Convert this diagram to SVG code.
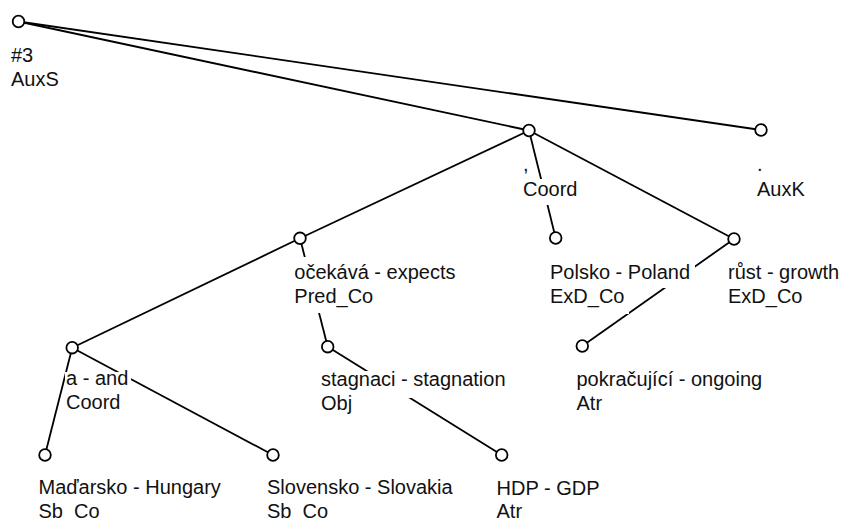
<svg xmlns="http://www.w3.org/2000/svg" width="842" height="521" viewBox="0 0 842 521">
  <style>
    .edge { stroke: #000; stroke-width: 1.8; fill: none; }
    .node circle { fill: #fff; stroke: #000; stroke-width: 1.8; }
    .node rect { fill: #fff; stroke: none; }
    .node text { font-family: "Liberation Sans", Arial, sans-serif; font-size: 20px; fill: #111; }
  </style>
  <rect width="842" height="521" fill="#fff"/>

  <!-- dependency edges, parent to child -->
  <g id="connectors">
    <line class="edge" x1="18.5" y1="21.5" x2="529" y2="130.5"/>
    <line class="edge" x1="18.5" y1="21.5" x2="761" y2="130"/>
    <line class="edge" x1="529" y1="130.5" x2="300" y2="238.3"/>
    <line class="edge" x1="529" y1="130.5" x2="555.7" y2="238"/>
    <line class="edge" x1="529" y1="130.5" x2="734" y2="239"/>
    <line class="edge" x1="300" y1="238.3" x2="72.2" y2="347.7"/>
    <line class="edge" x1="300" y1="238.3" x2="327.7" y2="346.7"/>
    <line class="edge" x1="734" y1="239" x2="582.3" y2="346"/>
    <line class="edge" x1="72.2" y1="347.7" x2="45" y2="455"/>
    <line class="edge" x1="72.2" y1="347.7" x2="273" y2="455"/>
    <line class="edge" x1="327.7" y1="346.7" x2="501.7" y2="455"/>
  </g>

  <g id="n-root" class="node">
    <rect x="10" y="46" width="26" height="25"/>
    <rect x="10" y="70" width="52" height="25"/>
    <text x="11" y="62">#3</text>
    <text x="11" y="86">AuxS</text>
    <circle cx="18.5" cy="21.5" r="5.8"/>
  </g>

  <g id="n-comma" class="node">
    <rect x="522" y="155" width="10" height="25"/>
    <rect x="522" y="179" width="59" height="26"/>
    <text x="523" y="171">,</text>
    <text x="523" y="195.5">Coord</text>
    <circle cx="529" cy="130.5" r="5.8"/>
  </g>

  <g id="n-period" class="node">
    <rect x="756" y="155" width="10" height="25"/>
    <rect x="756" y="179" width="52" height="26"/>
    <text x="757" y="171">.</text>
    <text x="757" y="195.5">AuxK</text>
    <circle cx="761" cy="130" r="5.8"/>
  </g>

  <g id="n-ocekava" class="node">
    <rect x="293" y="257" width="166" height="30"/>
    <rect x="293" y="287" width="83" height="26"/>
    <text x="294.3" y="279">očekává - expects</text>
    <text x="294.3" y="303">Pred_Co</text>
    <circle cx="300" cy="238.3" r="5.8"/>
  </g>

  <g id="n-polsko" class="node">
    <rect x="549" y="263" width="146" height="25"/>
    <rect x="549" y="288" width="80" height="26"/>
    <text x="550" y="279">Polsko - Poland</text>
    <text x="550" y="303">ExD_Co</text>
    <circle cx="555.7" cy="238" r="5.8"/>
  </g>

  <g id="n-rust" class="node">
    <rect x="727" y="259" width="116" height="29"/>
    <rect x="727" y="288" width="80" height="26"/>
    <text x="728" y="279">růst - growth</text>
    <text x="728" y="303">ExD_Co</text>
    <circle cx="734" cy="239" r="5.8"/>
  </g>

  <g id="n-a" class="node">
    <rect x="65" y="372" width="66" height="22"/>
    <rect x="65" y="394" width="59" height="24"/>
    <text x="66" y="385">a - and</text>
    <text x="66" y="409">Coord</text>
    <circle cx="72.2" cy="347.7" r="5.8"/>
  </g>

  <g id="n-stagnaci" class="node">
    <rect x="320" y="371" width="190" height="27"/>
    <rect x="320" y="398" width="36" height="24"/>
    <text x="321" y="386">stagnaci - stagnation</text>
    <text x="321" y="410">Obj</text>
    <circle cx="327.7" cy="346.7" r="5.8"/>
  </g>

  <g id="n-pokracujici" class="node">
    <rect x="575.5" y="366" width="190" height="29"/>
    <rect x="575.5" y="395" width="30" height="24"/>
    <text x="576.5" y="385.5">pokračující - ongoing</text>
    <text x="576.5" y="409.5">Atr</text>
    <circle cx="582.3" cy="346" r="5.8"/>
  </g>

  <g id="n-madarsko" class="node">
    <rect x="37.5" y="476" width="187" height="27"/>
    <rect x="37.5" y="503" width="66" height="18"/>
    <text x="38.5" y="494">Maďarsko - Hungary</text>
    <text x="38.5" y="518">Sb_Co</text>
    <circle cx="45" cy="455" r="5.8"/>
  </g>

  <g id="n-slovensko" class="node">
    <rect x="266" y="477" width="190" height="26"/>
    <rect x="266" y="503" width="66" height="18"/>
    <text x="267" y="494">Slovensko - Slovakia</text>
    <text x="267" y="518">Sb_Co</text>
    <circle cx="273" cy="455" r="5.8"/>
  </g>

  <g id="n-hdp" class="node">
    <rect x="495.5" y="477" width="108" height="26"/>
    <rect x="495.5" y="503" width="30" height="18"/>
    <text x="496.5" y="494.5">HDP - GDP</text>
    <text x="496.5" y="518">Atr</text>
    <circle cx="501.7" cy="455" r="5.8"/>
  </g>
</svg>
